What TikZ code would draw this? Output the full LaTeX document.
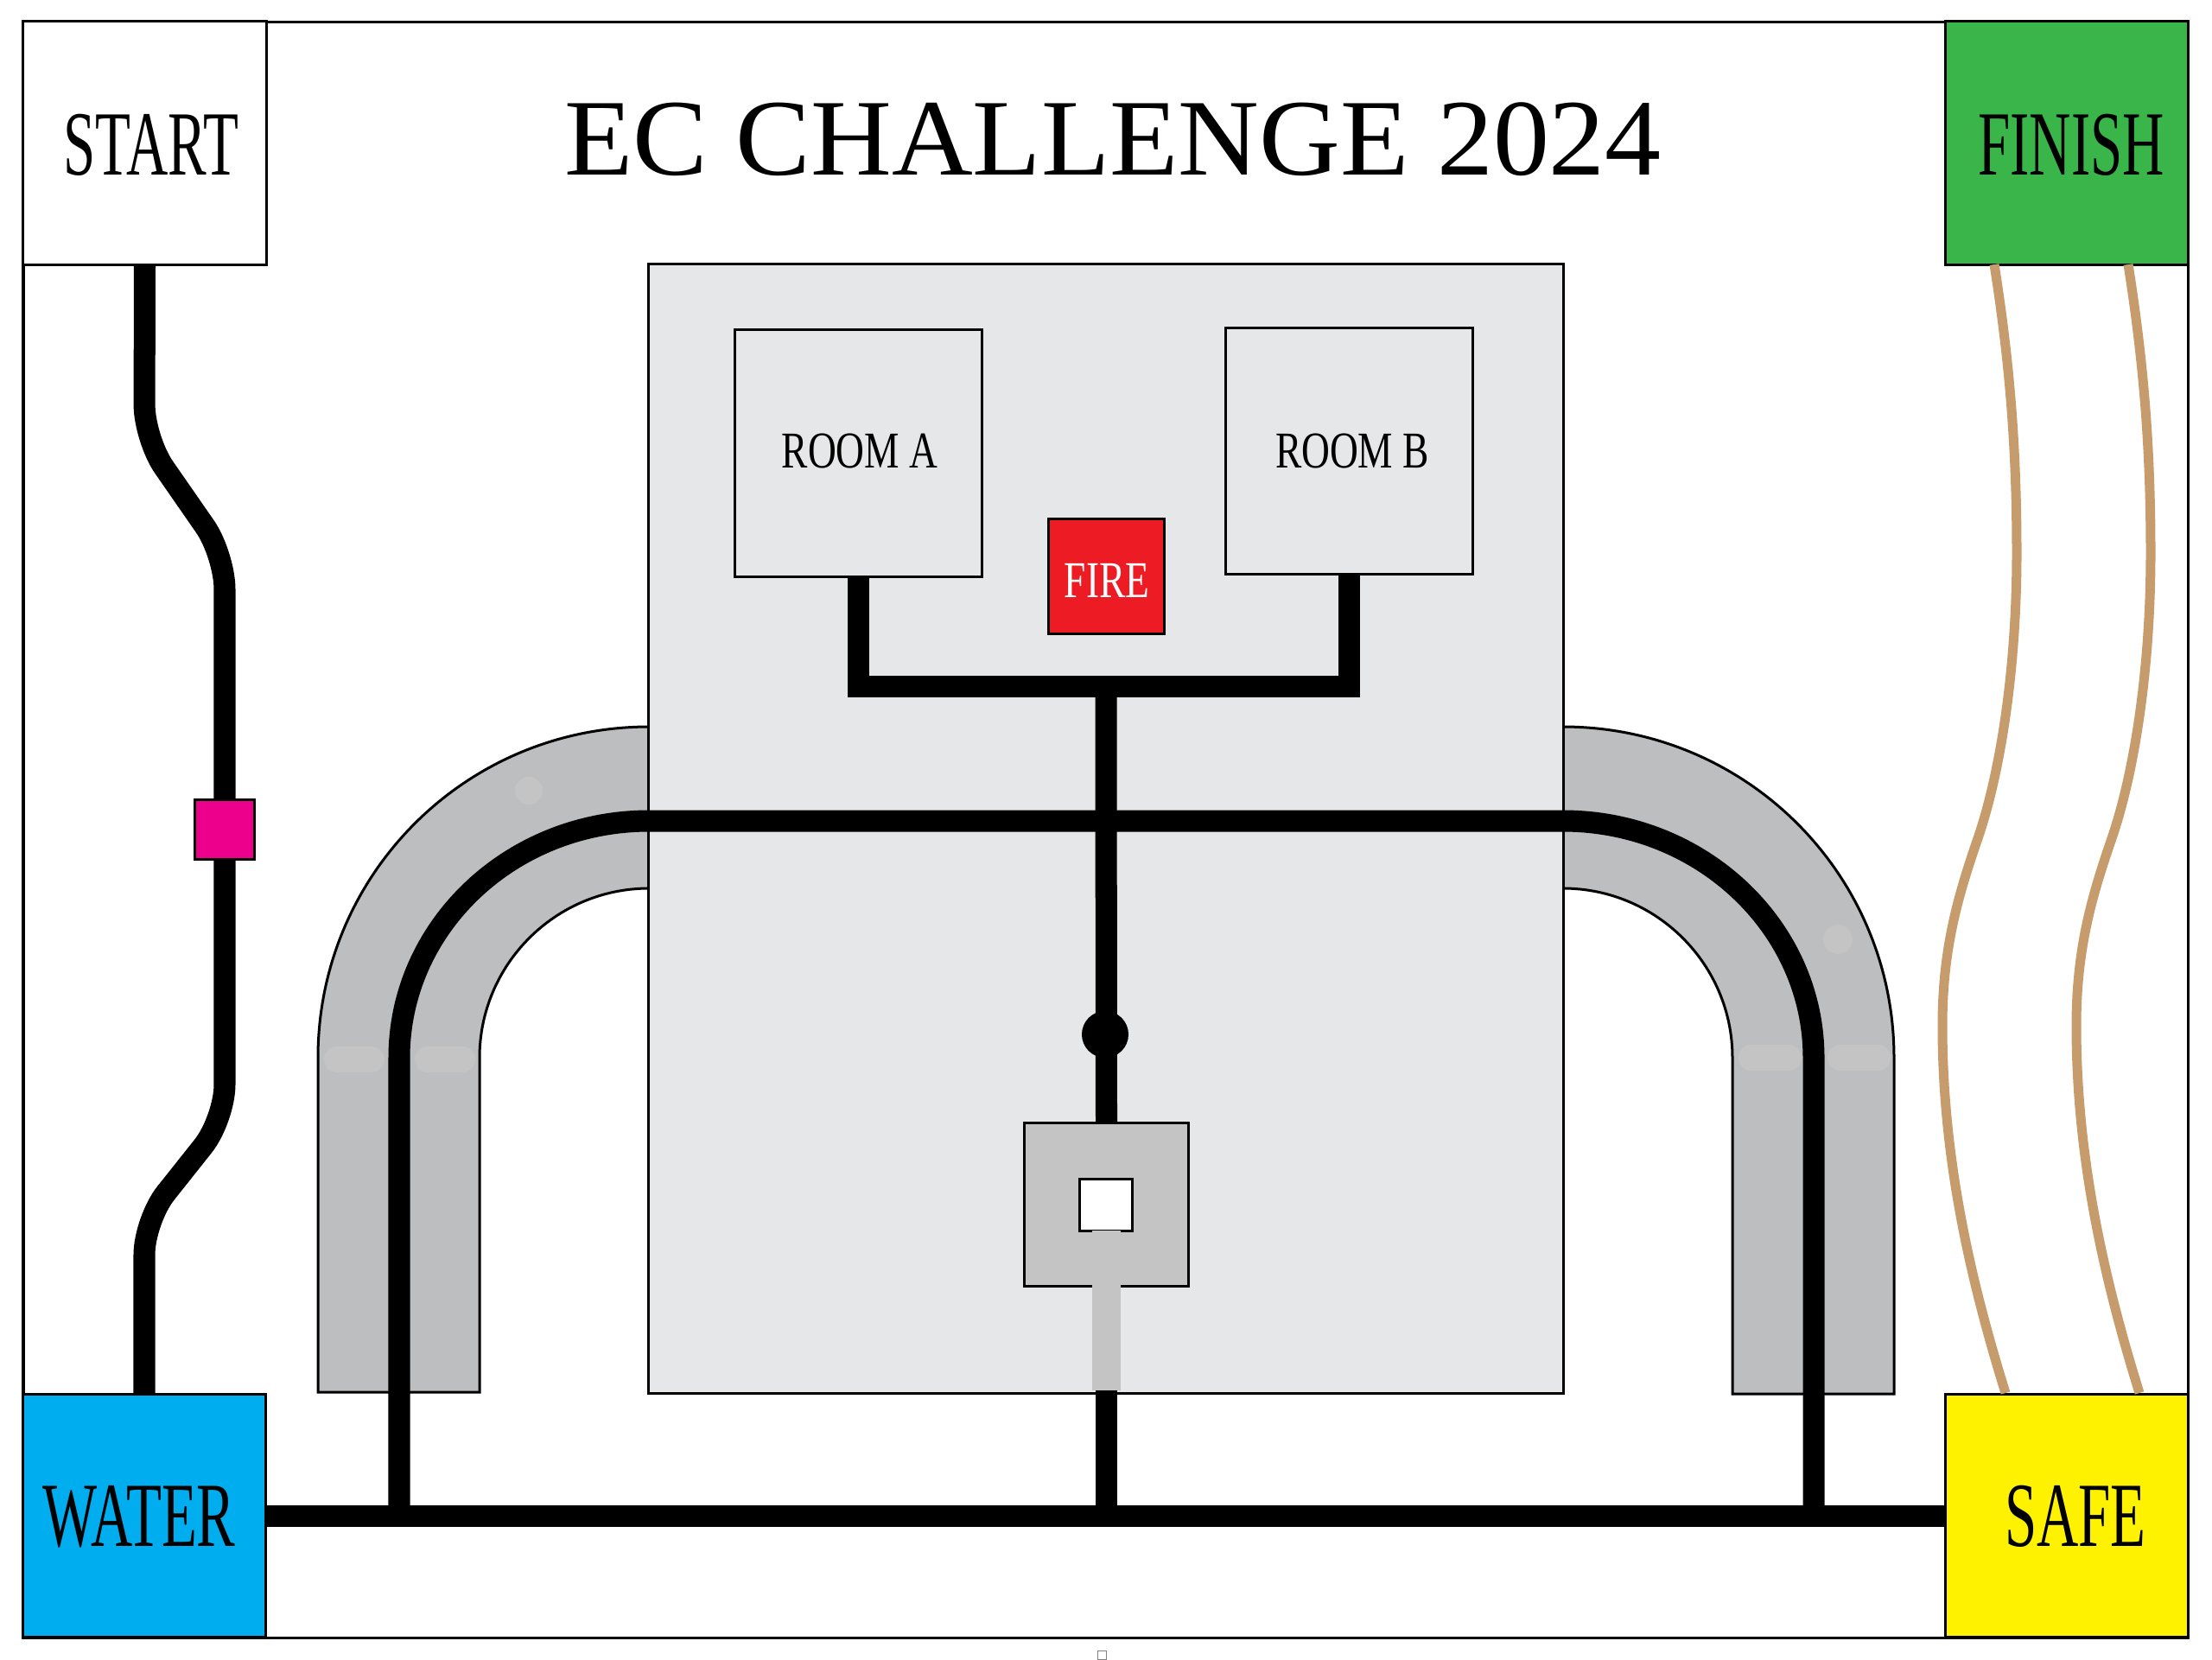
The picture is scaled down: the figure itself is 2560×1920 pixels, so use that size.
\documentclass[tikz,border=0pt]{standalone}
\usepackage{fontspec}
\setmainfont{Liberation Serif}
\newfontfamily\titlefont[FakeStretch=1.03]{Liberation Serif}
\newfontfamily\bignarrow[FakeStretch=0.63]{Liberation Serif}
\newfontfamily\smallnarrow[FakeStretch=0.76]{Liberation Serif}

\definecolor{panelgray}{HTML}{E6E7E8}
\definecolor{bandgray}{HTML}{BCBEC0}
\definecolor{hubgray}{HTML}{C4C4C4}
\definecolor{waterblue}{HTML}{00AEEF}
\definecolor{finishgreen}{HTML}{39B54A}
\definecolor{safeyellow}{HTML}{FFF200}
\definecolor{firered}{HTML}{ED1C24}
\definecolor{valvepink}{HTML}{EC008C}
\definecolor{sandtan}{HTML}{C69C6D}

\tikzset{
  box/.style={draw, line width=0.03cm, inner sep=0, outer sep=0},
  corner/.style={box, minimum size=2.81cm},
  roombox/.style={box, fill=panelgray, minimum size=2.85cm},
  biglabel/.style={anchor=base, inner sep=0, font=\bignarrow\fontsize{30.2}{34}\selectfont},
  smalllabel/.style={anchor=base, inner sep=0, font=\smallnarrow\fontsize{17}{20}\selectfont},
  wire/.style={line width=0.25cm},
  sandwire/.style={sandtan, line width=0.11cm},
  band/.style={draw, fill=bandgray, line width=0.03cm},
  smudge/.style={hubgray, line width=0.3cm, line cap=round}
}

\begin{document}
\begin{tikzpicture}[x=0.01cm, y=-0.01cm]
\useasboundingbox (0,0) rectangle (2560,1920);
\fill[white] (0,0) rectangle (2560,1920);

\draw[line width=0.03cm] (27,25) rectangle (2532,1895);
\node[gray, draw, line width=0.01cm, inner sep=0, minimum size=0.1cm] (stray) at (1275,1915) {};

% grey bends and the panel
\draw[band] (368,1611) -- (368,1224) .. controls (368,1012) and (539,841) .. (751,841)
  -- (751,1028) .. controls (643,1028) and (555,1116) .. (555,1224) -- (555,1611) -- cycle;
\draw[band] (2192,1613) -- (2192,1224) .. controls (2192,1012) and (2021,841) .. (1809,841)
  -- (1809,1028) .. controls (1917,1028) and (2005,1116) .. (2005,1224) -- (2005,1613) -- cycle;

\fill[hubgray] (612,915) circle (16);
\fill[hubgray] (2127,1087) circle (17);
\draw[smudge] (390,1226) -- (430,1226);
\draw[smudge] (495,1226) -- (535,1226);
\draw[smudge] (2027,1224) -- (2070,1224);
\draw[smudge] (2130,1224) -- (2173,1224);

\node[box, fill=panelgray, minimum width=10.58cm, minimum height=13.06cm] (panel) at (1280,959) {};

% boxes
\node[corner, fill=white] (start) at (167.5,165.5) {};
\node[corner, fill=finishgreen] (finish) at (2392,165.5) {};
\node[corner, fill=waterblue] (water) at (167,1754) {};
\node[corner, fill=safeyellow] (safe) at (2392,1754) {};
\node[roombox] (roomA) at (993.5,524.5) {};
\node[roombox] (roomB) at (1561.5,522) {};
\node[box, fill=firered, minimum size=1.33cm] (fire) at (1280.5,667) {};

\coordinate (branch) at (1280,794);
\coordinate (stubend) at (1280,1609);
\coordinate (busmid) at (1280,1754);
\coordinate (busleft) at (462,1754);
\coordinate (busright) at (2099,1754);
\coordinate (archleft) at (462,1224);
\coordinate (archright) at (2099,1224);

% black wires
\draw[wire, rounded corners=0.4cm] (start.south) -- (167,508) -- (260,642) -- (260,1295)
  -- (167,1412) -- (water.north);
\draw[wire] (water.east) -- (safe.west);
\draw[wire] (busleft) -- (archleft) .. controls (462,1073) and (591,950) .. (751,950)
  -- (1809,950) .. controls (1969,950) and (2099,1073) .. (archright) -- (busright);
\draw[wire] (roomA.south) |- (branch) -| (roomB.south);

\node[box, fill=hubgray, minimum size=1.89cm] (hub) at (1280.5,1394) {};
\node[box, fill=white, minimum size=0.6cm] (core) at (1280,1394) {};
\draw[wire] (branch) -- (hub.north);
\node[circle, fill=black, inner sep=0, minimum size=0.54cm] (joint) at (1279,1197) {};
\draw[hubgray, line width=0.33cm] (core.south) -- (stubend);
\draw[wire] (stubend) -- (busmid);

\node[box, fill=valvepink, minimum size=0.69cm] (valve) at (260,960) {};

% tan wires
\coordinate (finishL) at (2308,306);
\coordinate (finishR) at (2463,306);
\coordinate (safeL) at (2321,1612);
\coordinate (safeR) at (2476,1612);
\foreach \side/\dx in {L/0,R/155} {
  \draw[sandwire] (finish\side) .. controls (2326+\dx,420) and (2334+\dx,520) .. (2334+\dx,640)
    .. controls (2334+\dx,770) and (2316+\dx,893) .. (2288+\dx,973)
    .. controls (2265+\dx,1040) and (2248+\dx,1100) .. (2248+\dx,1187)
    .. controls (2248+\dx,1340) and (2280+\dx,1480) .. (safe\side);
}

% labels
\node[anchor=base, inner sep=0, font=\titlefont\fontsize{35.85}{40}\selectfont] (title) at (1288,202) {EC CHALLENGE 2024};
\node[biglabel] (startlabel) at (175,202) {START};
\node[biglabel] (finishlabel) at (2397,202) {FINISH};
\node[biglabel] (waterlabel) at (161,1789) {WATER};
\node[biglabel] (safelabel) at (2402,1789) {SAFE};
\node[smalllabel] (roomAlabel) at (995,541) {ROOM A};
\node[smalllabel] (roomBlabel) at (1565,541) {ROOM B};
\node[smalllabel, white] (firelabel) at (1281,691) {FIRE};

\end{tikzpicture}
\end{document}
